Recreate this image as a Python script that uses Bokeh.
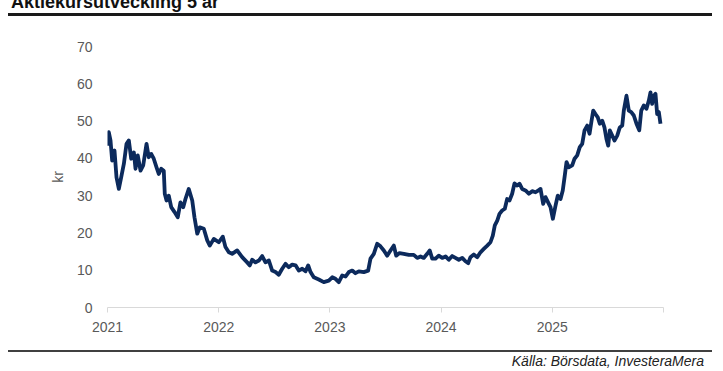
from bokeh.plotting import figure
from bokeh.models import ColumnDataSource, FixedTicker, Div
from bokeh.layouts import column
from bokeh.embed import file_html
from bokeh.resources import INLINE

# ---- data ----
years = [
    2021.000, 2021.012, 2021.027, 2021.042, 2021.063, 2021.081, 2021.102, 2021.123, 2021.147, 2021.171,
    2021.192, 2021.213, 2021.237, 2021.252, 2021.272, 2021.297, 2021.321, 2021.351, 2021.371, 2021.393,
    2021.416, 2021.441, 2021.461, 2021.483, 2021.506, 2021.515, 2021.531, 2021.551, 2021.573, 2021.603,
    2021.632, 2021.656, 2021.681, 2021.701, 2021.731, 2021.762, 2021.782, 2021.807, 2021.830, 2021.866,
    2021.897, 2021.920, 2021.956, 2022.001, 2022.037, 2022.061, 2022.091, 2022.121, 2022.166, 2022.211,
    2022.256, 2022.280, 2022.301, 2022.331, 2022.361, 2022.391, 2022.421, 2022.451, 2022.481, 2022.511,
    2022.540, 2022.571, 2022.601, 2022.630, 2022.661, 2022.691, 2022.720, 2022.751, 2022.781, 2022.805,
    2022.826, 2022.855, 2022.900, 2022.945, 2022.990, 2023.021, 2023.050, 2023.080, 2023.111, 2023.140,
    2023.170, 2023.201, 2023.230, 2023.260, 2023.305, 2023.344, 2023.365, 2023.395, 2023.425, 2023.455,
    2023.485, 2023.515, 2023.545, 2023.575, 2023.596, 2023.626, 2023.665, 2023.710, 2023.754, 2023.785,
    2023.815, 2023.844, 2023.875, 2023.898, 2023.920, 2023.950, 2023.979, 2024.010, 2024.040, 2024.069,
    2024.100, 2024.129, 2024.159, 2024.190, 2024.219, 2024.244, 2024.264, 2024.294, 2024.325, 2024.354,
    2024.384, 2024.415, 2024.444, 2024.465, 2024.483, 2024.505, 2024.525, 2024.549, 2024.573, 2024.594,
    2024.615, 2024.639, 2024.660, 2024.684, 2024.705, 2024.729, 2024.759, 2024.789, 2024.819, 2024.849,
    2024.879, 2024.894, 2024.918, 2024.939, 2024.969, 2024.984, 2025.005, 2025.029, 2025.049, 2025.074,
    2025.094, 2025.110, 2025.128, 2025.148, 2025.179, 2025.200, 2025.224, 2025.247, 2025.269, 2025.290,
    2025.314, 2025.335, 2025.353, 2025.368, 2025.388, 2025.409, 2025.427, 2025.449, 2025.469, 2025.487,
    2025.503, 2025.517, 2025.539, 2025.559, 2025.584, 2025.607, 2025.629, 2025.643, 2025.667, 2025.688,
    2025.710, 2025.733, 2025.757, 2025.782, 2025.800, 2025.823, 2025.847, 2025.868, 2025.883, 2025.898,
    2025.913, 2025.928, 2025.943, 2025.958, 2025.973,
]
price_kr = [
    43.4, 47.0, 44.8, 39.4, 42.1, 34.9, 31.8, 34.9, 38.5, 43.9,
    44.8, 39.9, 41.6, 37.2, 40.8, 36.7, 38.1, 43.9, 40.3, 41.2,
    39.9, 37.6, 35.8, 37.2, 36.7, 30.5, 28.7, 30.0, 26.9, 25.6,
    24.2, 28.2, 26.9, 29.1, 31.8, 28.7, 24.2, 19.8, 21.5, 21.1,
    18.0, 16.6, 18.4, 17.5, 19.0, 16.2, 14.8, 14.4, 15.3, 13.5,
    12.1, 11.3, 12.8, 12.1, 12.6, 13.8, 12.1, 12.6, 9.9, 9.5,
    8.8, 10.4, 11.7, 10.8, 11.5, 11.3, 9.9, 10.4, 9.7, 11.3,
    9.5, 8.1, 7.5, 6.8, 7.2, 8.1, 7.7, 6.8, 8.6, 8.3,
    9.5, 9.9, 9.2, 9.7, 9.5, 9.9, 13.1, 14.4, 17.1, 16.4,
    15.3, 13.9, 15.3, 16.6, 13.9, 14.6, 14.4, 14.1, 14.1, 13.3,
    13.7, 13.3, 14.4, 15.3, 13.1, 13.1, 13.9, 13.3, 13.7, 12.8,
    13.8, 13.3, 12.8, 13.3, 12.4, 11.9, 13.5, 14.2, 13.5, 14.8,
    15.7, 16.6, 17.5, 19.3, 22.0, 23.3, 25.1, 26.0, 26.5, 29.1,
    28.7, 30.5, 33.3, 32.7, 33.2, 31.8, 31.4, 30.5, 31.2, 30.9,
    31.5, 31.8, 27.8, 29.6, 27.8, 26.9, 23.8, 27.3, 30.0, 29.1,
    31.4, 34.9, 39.0, 37.6, 38.1, 39.9, 40.8, 43.0, 43.9, 47.5,
    48.8, 46.6, 50.1, 52.8, 51.9, 51.0, 49.3, 50.1, 48.3, 45.2,
    43.4, 47.5, 46.1, 44.8, 46.1, 48.3, 48.8, 52.8, 56.8, 52.8,
    52.4, 51.5, 49.3, 47.5, 52.8, 54.2, 53.3, 55.5, 57.7, 54.6,
    56.8, 57.3, 51.9, 52.4, 49.3,
]
tick_years = [2021, 2022, 2023, 2024, 2025, 2026]
tick_labels = ["2021", "2022", "2023", "2024", "2025", ""]
y_ticks = [0, 10, 20, 30, 40, 50, 60, 70]

title_text = "Aktiekursutveckling 5 år"
source_text = "Källa: Börsdata, InvesteraMera"
y_label = "kr"

FONT = "Liberation Sans"
W = 715

# ---- title strip (text partly above the page top, rule underneath) ----
title_div = Div(
    width=W, height=16, margin=0,
    text=(
        '<div style="position:relative;width:720px;height:16px;">'
        '<div style="position:absolute;left:11px;top:-7px;white-space:nowrap;'
        "font-family:'Liberation Sans';font-weight:bold;font-size:18px;line-height:18px;color:#111;\">"
        + title_text +
        '</div>'
        '<div style="position:absolute;left:8px;top:13.4px;width:704px;height:2.3px;background:#1a1a1a;"></div>'
        '</div>'
    ),
)

# ---- chart ----
p = figure(width=W, height=324, output_backend="svg", toolbar_location=None,
           x_range=(2021, 2026), y_range=(0, 70),
           min_border_left=107, min_border_right=W - 663, min_border_top=30, min_border_bottom=33)
p.outline_line_color = None
p.background_fill_color = "white"
p.border_fill_color = "white"
p.xgrid.grid_line_color = None
p.ygrid.grid_line_color = None

src = ColumnDataSource(dict(x=years, y=price_kr))
p.line("x", "y", source=src, line_color="#0c2a5c", line_width=3.8, line_join="round")

xa = p.xaxis[0]
xa.ticker = FixedTicker(ticks=tick_years)
xa.major_label_overrides = {t: l for t, l in zip(tick_years, tick_labels)}
xa.axis_line_color = "#d9d9d9"
xa.major_tick_line_color = "#d9d9d9"
xa.major_tick_out = 5
xa.major_tick_in = 0
xa.minor_tick_line_color = None
xa.major_label_standoff = 9
xa.major_label_text_font = FONT
xa.major_label_text_font_size = "14px"
xa.major_label_text_color = "#595959"

ya = p.yaxis[0]
ya.ticker = FixedTicker(ticks=y_ticks)
ya.axis_line_color = None
ya.major_tick_line_color = None
ya.minor_tick_line_color = None
ya.major_tick_out = 0
ya.major_tick_in = 0
ya.major_label_standoff = 15
ya.major_label_text_font = FONT
ya.major_label_text_font_size = "14px"
ya.major_label_text_color = "#595959"
ya.axis_label = y_label
ya.axis_label_text_font = FONT
ya.axis_label_text_font_size = "14px"
ya.axis_label_text_font_style = "normal"
ya.axis_label_text_color = "#595959"
ya.axis_label_standoff = 8

# ---- source strip (rule + right-aligned italic source) ----
source_div = Div(
    width=W, height=31, margin=0,
    text=(
        '<div style="position:relative;width:720px;height:31px;">'
        '<div style="position:absolute;left:8px;top:10px;width:704px;height:1.5px;background:#404040;"></div>'
        '<div style="position:absolute;right:16px;top:13px;white-space:nowrap;'
        "font-family:'Liberation Sans';font-style:italic;font-size:14px;line-height:16px;color:#222;\">"
        + source_text +
        '</div>'
        '</div>'
    ),
)

layout = column(title_div, p, source_div, spacing=0, margin=0)
open("out.html", "w").write(file_html(layout, INLINE))
